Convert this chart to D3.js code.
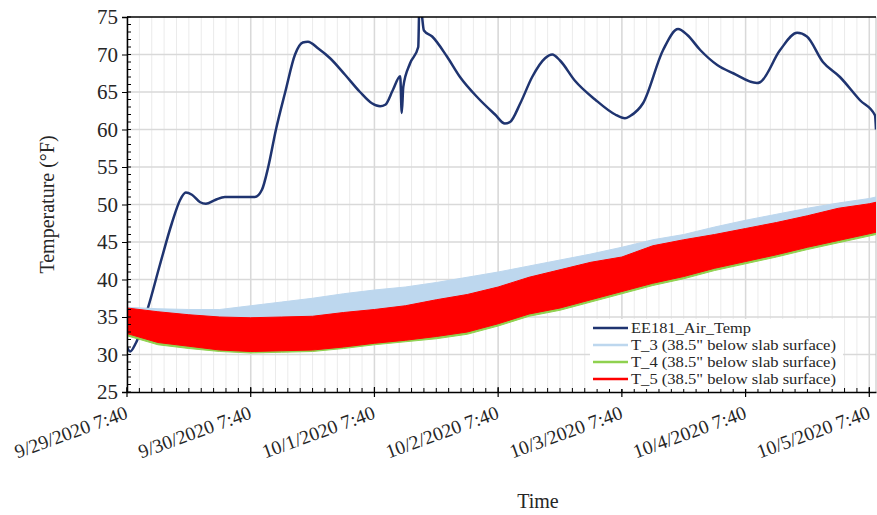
<!DOCTYPE html>
<html>
<head>
<meta charset="utf-8">
<script src="https://cdn.jsdelivr.net/npm/d3@7"></script>
<style>
	body { margin: 0; background: white; }
	text { font-family: "Liberation Serif", "Times New Roman", serif; fill: #262626; }
</style>
</head>
<body>
<svg></svg>
<script>
var w = 877;
var h = 515;

// hours after 9/29/2020 7:40 and readings
var airHours = [0, 0.6, 1.7, 4.1, 6.4, 8.7, 10.3, 11.4, 12.6, 14.2, 15.3, 17.1, 19.0, 21.9, 24.8, 26.2, 27.4, 28.9, 30.7, 32.6,
	34.1, 35.1, 37.1, 39.4, 42.3, 45.2, 47.5, 49.1, 50.1, 51.6, 53.0, 53.3, 53.6, 54.9, 56.5, 56.7, 57.0, 57.6, 59.2, 62.1,
	64.6, 68.1, 71.4, 73.3, 74.3, 76.3, 78.6, 81.1, 82.5, 84.0, 86.9, 90.8, 94.7, 96.6, 97.6, 100.1, 104.0, 106.9, 108.7, 111.2,
	114.5, 117.6, 122.2, 122.8, 126.7, 130.0, 131.9, 135.0, 138.3, 142.2, 145.1, 145.3];
var airTemp = [31.0, 30.4, 31.5, 36.3, 42.0, 47.5, 50.6, 51.6, 51.3, 50.3, 50.1, 50.6, 51.0, 51.0, 51.0, 52.0, 55.0, 60.0, 65.0, 70.0,
	71.6, 71.7, 70.8, 69.5, 67.3, 65.0, 63.5, 63.1, 63.3, 65.3, 67.1, 62.2, 65.7, 68.8, 71.0, 76.0, 76.0, 73.2, 72.4, 69.7,
	67.0, 64.2, 62.0, 60.8, 61.0, 63.5, 67.0, 69.5, 70.0, 69.2, 66.5, 64.0, 62.0, 61.5, 61.8, 63.5, 70.6, 73.4, 72.6, 70.6,
	68.6, 67.5, 66.2, 66.3, 70.6, 72.9, 72.4, 69.0, 67.0, 63.9, 61.9, 60.0];

// slab sensors swing quickly; kept as min / max readings every 6 hours
var slabHours = [0, 6, 12, 18, 24, 30, 36, 42, 48, 54, 60, 66, 72, 78, 84, 90, 96, 102, 108, 114, 120, 126, 132, 138, 144, 145.3];
var t3Max = [36.3, 36.1, 36.0, 36.0, 36.5, 37.0, 37.5, 38.1, 38.6, 39.0, 39.6, 40.3, 41.0, 41.8, 42.6, 43.4, 44.3, 45.3, 46.0, 47.0, 47.9, 48.7, 49.5, 50.2, 50.8, 51.0];
var t3Min = [33.2, 32.1, 31.6, 31.1, 30.9, 31.0, 31.1, 31.5, 32.0, 32.4, 32.9, 33.5, 34.6, 35.9, 36.7, 37.8, 38.9, 40.0, 40.9, 42.0, 42.9, 43.8, 44.8, 45.7, 46.6, 46.8];
var t4Max = [36.0, 35.5, 35.1, 34.8, 34.7, 34.8, 34.9, 35.4, 35.8, 36.3, 37.0, 37.7, 38.7, 40.0, 41.0, 42.0, 42.8, 44.2, 45.0, 45.7, 46.5, 47.3, 48.2, 49.2, 49.8, 50.0];
var t4Min = [32.5, 31.3, 30.8, 30.4, 30.2, 30.3, 30.4, 30.8, 31.3, 31.7, 32.1, 32.7, 33.8, 35.1, 35.9, 37.0, 38.1, 39.2, 40.1, 41.2, 42.1, 43.0, 44.0, 44.9, 45.8, 46.0];
var t5Max = [36.2, 35.7, 35.3, 35.0, 34.9, 35.0, 35.1, 35.6, 36.0, 36.5, 37.3, 38.0, 39.0, 40.3, 41.3, 42.3, 43.0, 44.5, 45.3, 46.0, 46.8, 47.6, 48.5, 49.5, 50.1, 50.3];
var t5Min = [32.8, 31.6, 31.1, 30.6, 30.4, 30.5, 30.6, 31.0, 31.5, 31.9, 32.4, 33.0, 34.1, 35.4, 36.2, 37.3, 38.4, 39.5, 40.4, 41.5, 42.4, 43.3, 44.3, 45.2, 46.1, 46.3];

var xTickLabels = ["9/29/2020 7:40", "9/30/2020 7:40", "10/1/2020 7:40", "10/2/2020 7:40", "10/3/2020 7:40", "10/4/2020 7:40", "10/5/2020 7:40"];
var yTicks = [25, 30, 35, 40, 45, 50, 55, 60, 65, 70, 75];
var seriesNames = ["EE181_Air_Temp", "T_3 (38.5\" below slab surface)", "T_4 (38.5\" below slab surface)", "T_5 (38.5\" below slab surface)"];
var seriesColors = ["#1f3470", "#bdd7ee", "#8fd14f", "#ff0000"];

var start = new Date(2020, 8, 29, 7, 40);
function toDate(hr) { return new Date(start.getTime() + hr * 3600000); }

var pLeft = 127, pRight = 876, pTop = 17, pBottom = 392;

var canvas = d3.select("svg")
	.attr("width", w)
	.attr("height", h)
	.style("background-color", "white")

var x = d3.scaleTime()
	.domain([start, toDate(145.3)])
	.range([pLeft, pRight]);
var y = d3.scaleLinear()
	.domain([25, 75])
	.range([pBottom, pTop]);

var dayTicks = xTickLabels.map(function (d, i) { return d3.timeHour.offset(start, 24 * i); });
var minorX = d3.range(0, 146, 2.4).map(toDate);

// grid
canvas.append("g")
	.selectAll("line")
	.data(minorX)
	.join("line")
	.attr("x1", function (d) { return x(d); })
	.attr("x2", function (d) { return x(d); })
	.attr("y1", pTop)
	.attr("y2", pBottom)
	.attr("stroke", "#ebebeb")
	.attr("stroke-width", 1);
canvas.append("g")
	.selectAll("line")
	.data(dayTicks)
	.join("line")
	.attr("x1", function (d) { return x(d); })
	.attr("x2", function (d) { return x(d); })
	.attr("y1", pTop)
	.attr("y2", pBottom)
	.attr("stroke", "#d9d9d9")
	.attr("stroke-width", 1.5);
canvas.append("g")
	.selectAll("line")
	.data(yTicks.slice(1, -1))
	.join("line")
	.attr("x1", pLeft)
	.attr("x2", pRight)
	.attr("y1", function (d) { return y(d); })
	.attr("y2", function (d) { return y(d); })
	.attr("stroke", "#d9d9d9")
	.attr("stroke-width", 1.5);
canvas.append("line")
	.attr("x1", pRight).attr("x2", pRight)
	.attr("y1", pTop).attr("y2", pBottom)
	.attr("stroke", "#bfbfbf");

canvas.append("clipPath")
	.attr("id", "plot")
	.append("rect")
	.attr("x", pLeft)
	.attr("y", pTop)
	.attr("width", pRight - pLeft)
	.attr("height", pBottom - pTop);

var series = canvas.append("g").attr("clip-path", "url(#plot)");

var airLine = d3.line()
	.curve(d3.curveMonotoneX)
	.x(function (d) { return x(toDate(d[0])); })
	.y(function (d) { return y(d[1]); });
series.append("path")
	.attr("d", airLine(d3.zip(airHours, airTemp)))
	.attr("fill", "none")
	.attr("stroke", seriesColors[0])
	.attr("stroke-width", 2.5)
	.attr("stroke-linejoin", "round");

var band = d3.area()
	.x(function (d) { return x(toDate(d[0])); })
	.y0(function (d) { return y(d[1]); })
	.y1(function (d) { return y(d[2]); });
[[t3Min, t3Max], [t4Min, t4Max], [t5Min, t5Max]].forEach(function (s, i) {
	series.append("path")
		.attr("d", band(d3.zip(slabHours, s[0], s[1])))
		.attr("fill", seriesColors[i + 1])
		.attr("stroke", seriesColors[i + 1])
		.attr("stroke-width", 1);
});

// axes
var xAxis = d3.axisBottom(x)
	.tickValues(dayTicks)
	.tickSize(0)
	.tickFormat("");
canvas.append("g")
	.attr("transform", "translate(0," + pBottom + ")")
	.call(xAxis)
	.select(".domain")
	.attr("stroke", "#000")
	.attr("stroke-width", 1.5);
canvas.append("g")
	.selectAll("line")
	.data(minorX)
	.join("line")
	.attr("x1", function (d) { return x(d); })
	.attr("x2", function (d) { return x(d); })
	.attr("y1", pBottom)
	.attr("y2", pBottom - 4)
	.attr("stroke", "#000");
canvas.append("g")
	.selectAll("line")
	.data(dayTicks)
	.join("line")
	.attr("x1", function (d) { return x(d); })
	.attr("x2", function (d) { return x(d); })
	.attr("y1", pBottom + 5)
	.attr("y2", pBottom - 5)
	.attr("stroke", "#000")
	.attr("stroke-width", 1.2);
canvas.append("g")
	.selectAll("text")
	.data(dayTicks)
	.join("text")
	.attr("transform", function (d) { return "translate(" + (x(d) + 2) + "," + (pBottom + 26) + ") rotate(-20)"; })
	.attr("text-anchor", "end")
	.style("font-size", "19.5px")
	.text(function (d, i) { return xTickLabels[i]; });

var yAxis = d3.axisLeft(y)
	.tickValues(yTicks)
	.tickSize(5)
	.tickPadding(4)
	.tickFormat(d3.format("d"));
var ya = canvas.append("g")
	.attr("transform", "translate(" + pLeft + ",0)")
	.call(yAxis);
ya.select(".domain").attr("stroke", "#000").attr("stroke-width", 1.5);
ya.selectAll("text")
	.style("font-size", "21px")
	.style("font-family", "Liberation Serif")
	.attr("fill", "#262626");
canvas.append("g")
	.selectAll("line")
	.data(d3.range(25, 76, 1))
	.join("line")
	.attr("x1", pLeft)
	.attr("x2", pLeft + 4)
	.attr("y1", function (d) { return y(d); })
	.attr("y2", function (d) { return y(d); })
	.attr("stroke", "#000");
canvas.append("line")
	.attr("x1", pLeft).attr("x2", pRight)
	.attr("y1", pTop).attr("y2", pTop)
	.attr("stroke", "#000")
	.attr("stroke-width", 1.5);

// titles
canvas.append("text")
	.attr("transform", "translate(54," + ((pTop + pBottom) / 2) + ") rotate(-90)")
	.attr("text-anchor", "middle")
	.style("font-size", "20px")
	.text("Temperature (°F)");
canvas.append("text")
	.attr("x", 538)
	.attr("y", 508)
	.attr("text-anchor", "middle")
	.style("font-size", "20px")
	.text("Time");

// legend
var legend = canvas.append("g");
legend.append("rect")
	.attr("x", 590)
	.attr("y", 319)
	.attr("width", 253)
	.attr("height", 70)
	.attr("fill", "white");
var rows = legend.selectAll("g")
	.data(seriesNames)
	.join("g")
	.attr("transform", function (d, i) { return "translate(593," + (328 + i * 17) + ")"; });
rows.append("line")
	.attr("x1", 0)
	.attr("x2", 35)
	.attr("stroke", function (d, i) { return seriesColors[i]; })
	.attr("stroke-width", 2.5);
rows.append("text")
	.attr("x", 38)
	.attr("y", 5)
	.style("font-size", "15px")
	.attr("textLength", function (d, i) { return i === 0 ? 120 : 205; })
	.attr("lengthAdjust", "spacingAndGlyphs")
	.text(function (d) { return d; });
</script>
</body>
</html>
